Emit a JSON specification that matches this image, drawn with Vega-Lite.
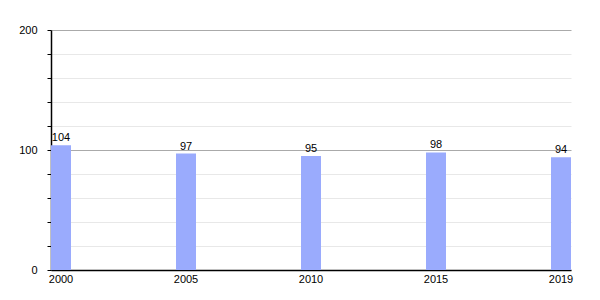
{
  "$schema": "https://vega.github.io/schema/vega-lite/v6.json",
  "width": 520,
  "height": 240,
  "autosize": "none",
  "padding": {"left": 51, "top": 30, "right": 29, "bottom": 30},
  "background": "white",
  "config": {
    "view": {"stroke": null},
    "font": "Liberation Sans",
    "axis": {"labelFont": "Liberation Sans", "labelFontSize": 11, "labelColor": "#000"}
  },
  "data": {
    "values": [
      {"year": "2000", "value": 104},
      {"year": "2005", "value": 97},
      {"year": "2010", "value": 95},
      {"year": "2015", "value": 98},
      {"year": "2019", "value": 94}
    ]
  },
  "encoding": {
    "x": {
      "field": "year",
      "type": "ordinal",
      "scale": {"paddingInner": 0.84, "paddingOuter": 0},
      "axis": {
        "title": null,
        "labelAngle": 0,
        "ticks": false,
        "labelPadding": 3,
        "domainColor": "#000",
        "domainWidth": 1.5
      }
    },
    "y": {
      "field": "value",
      "type": "quantitative",
      "scale": {"domain": [0, 200], "nice": false},
      "axis": {
        "title": null,
        "values": [0, 20, 40, 60, 80, 100, 120, 140, 160, 180, 200],
        "labelExpr": "datum.value % 100 === 0 ? datum.label : ''",
        "grid": true,
        "gridColor": {"condition": {"test": "datum.value % 100 === 0", "value": "#aaaaaa"}, "value": "#e8e8e8"},
        "gridWidth": 1,
        "tickColor": "#000",
        "tickSize": 4,
        "labelPadding": 10,
        "domainColor": "#000",
        "domainWidth": 1.5
      }
    }
  },
  "layer": [
    {"mark": {"type": "bar", "color": "#9aabfd"}},
    {
      "mark": {"type": "text", "baseline": "bottom", "dy": -2, "fontSize": 11, "color": "#000"},
      "encoding": {"text": {"field": "value", "type": "quantitative"}}
    }
  ]
}
